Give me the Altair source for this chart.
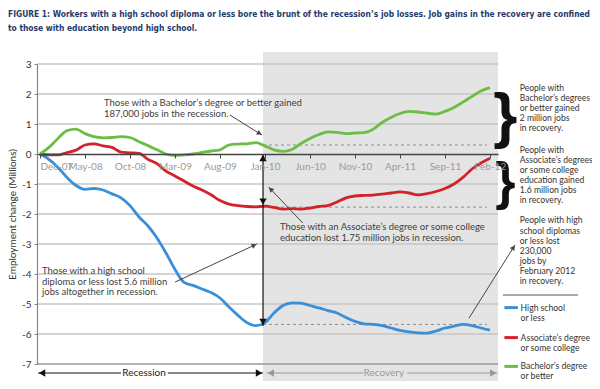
import math
import altair as alt
import pandas as pd

# ---------------- data ----------------
month_idx = list(range(51))  # Dec-07 .. Feb-12
tick_values = [0, 5, 10, 15, 20, 25, 30, 35, 40, 45, 50]
tick_labels = ["Dec-07", "May-08", "Oct-08", "Mar-09", "Aug-09", "Jan-10",
               "Jun-10", "Nov-10", "Apr-11", "Sep-11", "Feb-12"]

high_school = [0, -0.18, -0.45, -0.78, -1.05, -1.18, -1.15, -1.2, -1.33, -1.46,
               -1.72, -2.1, -2.4, -2.8, -3.3, -3.85, -4.28, -4.38, -4.5, -4.62,
               -4.8, -5.1, -5.38, -5.62, -5.72, -5.62, -5.3, -5.05, -4.96, -4.97,
               -5.05, -5.13, -5.22, -5.3, -5.45, -5.58, -5.66, -5.68, -5.72, -5.8,
               -5.88, -5.93, -5.96, -5.97, -5.9, -5.8, -5.74, -5.68, -5.72, -5.8, -5.87]
associate = [0, -0.03, -0.03, 0.05, 0.13, 0.3, 0.34, 0.27, 0.22, 0.06,
             0.04, 0.02, -0.18, -0.32, -0.57, -0.73, -0.9, -1.07, -1.2, -1.36,
             -1.55, -1.67, -1.72, -1.75, -1.76, -1.74, -1.78, -1.84, -1.82, -1.84,
             -1.8, -1.75, -1.72, -1.6, -1.46, -1.4, -1.38, -1.37, -1.34, -1.3,
             -1.26, -1.3, -1.36, -1.32, -1.25, -1.15, -1.0, -0.78, -0.5, -0.3, -0.14]
bachelor = [0, 0.22, 0.52, 0.78, 0.83, 0.68, 0.58, 0.54, 0.55, 0.58,
            0.55, 0.41, 0.28, 0.14, 0.0, -0.05, -0.03, 0.0, 0.05, 0.1,
            0.14, 0.3, 0.33, 0.34, 0.38, 0.27, 0.14, 0.09, 0.15, 0.35,
            0.52, 0.65, 0.74, 0.72, 0.68, 0.7, 0.71, 0.82, 1.05, 1.22,
            1.35, 1.42, 1.4, 1.36, 1.33, 1.42, 1.55, 1.73, 1.92, 2.1, 2.21]

series_names = ["High school or less", "Associate's degree or some college",
                "Bachelor's degree or better"]
series_colors = ["#3a8fd8", "#d2232a", "#6cbd45"]

title_lines = [
    "FIGURE 1: Workers with a high school diploma or less bore the brunt of the recession\u2019s job losses. Job gains in the recovery are confined",
    "to those with education beyond high school.",
]

# ---------------- geometry helpers ----------------
PX_M = 9.0    # pixels per month
PX_V = 30.0   # pixels per million
XDOM = [-0.333, 50.889]
YDOM = [-7, 3]
W, H = 461, 300

xs = alt.Scale(domain=XDOM, nice=False, zero=False)
ys = alt.Scale(domain=YDOM, nice=False, zero=False)

FONT = "Lato"
DARK = "#3d3d3d"

label_expr = "[" + ",".join(f"'{t}'" for t in tick_labels) + "][round(datum.value/5)]"

x_axis = alt.Axis(
    values=tick_values, labelExpr=label_expr, offset=-210, grid=False, title=None,
    domainColor="#444", domainWidth=1.5, tickColor="#444", tickSize=4, tickWidth=1,
    labelColor="#9a9a9a", labelFont=FONT, labelFontSize=10, labelPadding=3,
    labelFlush=5, labelOverlap=False, zindex=1)
y_axis = alt.Axis(
    values=list(range(-7, 4)), labelExpr="toString(datum.value)", grid=False,
    title="Employment change (Millions)", titleFont=FONT, titleFontSize=10,
    titleFontWeight="normal", titleColor="#333", titlePadding=4,
    labelColor="#333", labelFont=FONT, labelFontSize=10, labelPadding=3,
    labelOverlap=False,
    domainColor="#888", domainWidth=1.2, tickColor="#888", tickSize=3, zindex=1)


def X(f="m"):
    return alt.X(f"{f}:Q", scale=xs, axis=x_axis)


def Y(f="v"):
    return alt.Y(f"{f}:Q", scale=ys, axis=y_axis)


# ---------------- layers ----------------
rows = []
for name, vals in zip(series_names, [high_school, associate, bachelor]):
    for m, v in zip(month_idx, vals):
        rows.append({"m": m, "v": v, "series": name})
lines_df = pd.DataFrame(rows)

bg = alt.Chart(pd.DataFrame({"m": [24.78], "m2": [50.889], "v": [3.4], "v2": [-7.6]})).mark_rect(
    color="#e4e4e4").encode(x=X(), x2="m2:Q", y=Y(), y2="v2:Q")

grid = alt.Chart(pd.DataFrame({"v": [g for g in range(-6, 4) if g != 0]})).mark_rule(
    color="#c6c6c6", strokeWidth=1.5).encode(y=Y())
bottom_line = alt.Chart(pd.DataFrame({"v": [-7]})).mark_rule(
    color="#9a9a9a", strokeWidth=1.5).encode(y=Y())

lines = alt.Chart(lines_df).mark_line(strokeWidth=2.8, interpolate="monotone").encode(
    x=X(), y=Y(),
    color=alt.Color("series:N", scale=alt.Scale(domain=series_names, range=series_colors), legend=None),
    detail="series:N",
)

# dashed reference lines in recovery
dash_df = pd.DataFrame({"m": [24.78] * 3, "m2": [49.67] * 3, "v": [0.3, -1.77, -5.68]})
dashes = alt.Chart(dash_df).mark_rule(color="#8c8c8c", strokeDash=[3, 3], strokeWidth=1).encode(
    x=X(), x2="m2:Q", y=Y())

# annotation arrows (tail -> head), data units
arrows = [
    (21.1, 1.30, 24.67, 0.63),      # bachelor note
    (29.2, -2.30, 25.4, -1.10),     # associate note
    (15.0, -4.27, 24.1, -3.00),     # high school note
    (47.67, -5.47, 52.78, -3.03),   # right note
]
arrow_df = pd.DataFrame([{"m": a, "v": b, "m2": c, "v2": d} for a, b, c, d in arrows])
arrow_lines = alt.Chart(arrow_df).mark_rule(color="#444", strokeWidth=1).encode(
    x=X(), x2="m2:Q", y=Y(), y2="v2:Q")


def head(m_tip, v_tip, ang, d=3.0):
    r = math.radians(ang)
    return {"m": m_tip - d * math.sin(r) / PX_M, "v": v_tip - d * math.cos(r) / PX_V, "a": ang % 360}


heads = []
for a, b, c, d in arrows:
    ang = math.degrees(math.atan2((c - a) * PX_M, (d - b) * PX_V))
    heads.append(head(c, d, ang))
arrow_heads = alt.Chart(pd.DataFrame(heads)).mark_point(
    shape="triangle-up", filled=True, size=30, color="#444", opacity=1).encode(
    x=X(), y=Y(), angle=alt.Angle("a:Q", scale=None))

# vertical double arrow at Jan-10
vx = 24.78
vert = alt.Chart(pd.DataFrame({"m": [vx], "v": [0], "v2": [-5.73]})).mark_rule(
    color="#111", strokeWidth=1.2).encode(x=X(), y=Y(), y2="v2:Q")
vheads = pd.DataFrame([head(vx, 0, 0, 4), head(vx, -1.72, 180, 4), head(vx, -5.73, 180, 4)])
vert_heads = alt.Chart(vheads).mark_point(
    shape="triangle-up", filled=True, size=55, color="#111", opacity=1).encode(
    x=X(), y=Y(), angle=alt.Angle("a:Q", scale=None))

# recession / recovery arrows
rec_df = pd.DataFrame({"m": [-0.22, 14.2], "m2": [9.0, 24.78], "v": [-7.3, -7.3]})
rec_lines = alt.Chart(rec_df).mark_rule(color="#111", strokeWidth=1.2).encode(x=X(), x2="m2:Q", y=Y())
rec_heads = alt.Chart(pd.DataFrame([head(-0.22, -7.3, 270, 4), head(24.78, -7.3, 90, 4)])).mark_point(
    shape="triangle-up", filled=True, size=55, color="#111", opacity=1).encode(
    x=X(), y=Y(), angle=alt.Angle("a:Q", scale=None))
recov_df = pd.DataFrame({"m": [25.2, 40.8], "m2": [35.9, 50.8], "v": [-7.3, -7.3]})
recov_lines = alt.Chart(recov_df).mark_rule(color="#999", strokeWidth=1.2).encode(x=X(), x2="m2:Q", y=Y())
recov_heads = alt.Chart(pd.DataFrame([head(25.2, -7.3, 270, 4), head(50.8, -7.3, 90, 4)])).mark_point(
    shape="triangle-up", filled=True, size=55, color="#999", opacity=1).encode(
    x=X(), y=Y(), angle=alt.Angle("a:Q", scale=None))


def texts(items, **kw):
    df = pd.DataFrame([{"m": m, "v": v, "t": t} for m, v, t in items])
    return alt.Chart(df).mark_text(**kw).encode(x=X(), y=Y(), text="t:N")


note_style = dict(align="left", baseline="middle", font=FONT, fontSize=9.5, color=DARK)
notes = texts([
    (7.11, 1.70, "Those with a Bachelor\u2019s degree or better gained"),
    (7.11, 1.33, "187,000 jobs in the recession."),
    (26.67, -2.43, "Those with an Associate\u2019s  degree or some college"),
    (26.67, -2.80, "education lost 1.75 million jobs in recession."),
    (0.22, -3.90, "Those with a high school"),
    (0.22, -4.27, "diploma or less lost 5.6 million"),
    (0.22, -4.60, "jobs altogether in recession."),
], **note_style)

SX = 53.3
side_style = dict(align="left", baseline="middle", font=FONT, fontSize=8.6, color="#333")
side = texts([
    (SX, 2.20, "People with"), (SX, 1.87, "Bachelor\u2019s degrees"),
    (SX, 1.53, "or better gained"), (SX, 1.20, "2 million jobs"),
    (SX, 0.87, "in recovery."),
    (SX, 0.13, "People with"), (SX, -0.20, "Associate\u2019s degrees"),
    (SX, -0.53, "or some college"), (SX, -0.87, "education gained"),
    (SX, -1.20, "1.6 million jobs"), (SX, -1.53, "in recovery."),
    (SX, -2.20, "People with high"), (SX, -2.55, "school diplomas"),
    (SX, -2.89, "or less lost"), (SX, -3.22, "230,000"),
    (SX, -3.56, "jobs by"), (SX, -3.90, "February 2012"),
    (SX, -4.23, "in recovery."),
    (SX + 0.1, -5.12, "High school"), (SX + 0.1, -5.45, "or less"),
    (SX + 0.1, -6.12, "Associate\u2019s degree"), (SX + 0.1, -6.45, "or some college"),
    (SX + 0.1, -7.08, "Bachelor\u2019s degree"), (SX + 0.1, -7.40, "or better"),
], **side_style)

braces = texts([(51.7, 1.22, "}")], align="center", baseline="middle",
               font="Liberation Sans", fontWeight="bold", fontSize=62, color="#111")
braces2 = texts([(51.7, -0.98, "}")], align="center", baseline="middle",
                font="Liberation Sans", fontWeight="bold", fontSize=52, color="#111")

sep = alt.Chart(pd.DataFrame({"m": [51.44], "m2": [59.78], "v": [-4.7]})).mark_rule(
    color="#555", strokeWidth=1.2).encode(x=X(), x2="m2:Q", y=Y())

leg_df = pd.DataFrame({"m": [51.6] * 3, "m2": [53.1] * 3, "v": [-5.12, -6.12, -7.08],
                       "series": series_names})
leg = alt.Chart(leg_df).mark_rule(strokeWidth=3).encode(
    x=X(), x2="m2:Q", y=Y(),
    color=alt.Color("series:N", scale=alt.Scale(domain=series_names, range=series_colors), legend=None))

rec_text = texts([(11.56, -7.3, "Recession")], align="center", baseline="middle",
                 font=FONT, fontSize=10, color="#222")
recov_text = texts([(38.2, -7.3, "Recovery")], align="center", baseline="middle",
                   font=FONT, fontSize=10, color="#999")

chart = alt.layer(
    bg, grid, bottom_line, dashes, lines, arrow_lines, arrow_heads, vert, vert_heads,
    rec_lines, rec_heads, recov_lines, recov_heads, notes, side, braces, braces2, sep, leg,
    rec_text, recov_text,
).properties(
    width=W, height=H,
    title=alt.Title(text=title_lines, anchor="start", frame="group",
                    font="'DejaVu Sans Condensed', 'Liberation Sans', sans-serif",
                    fontSize=8.4, fontWeight="bold", color="#1f3a6b", lineHeight=14,
                    dx=-29, offset=20),
    autosize=alt.AutoSizeParams(type="none"),
    padding={"left": 29, "top": 56, "right": 94, "bottom": 17},
).configure_view(stroke=None)

chart.save("out.html", embed_options={"renderer": "svg", "actions": False})
